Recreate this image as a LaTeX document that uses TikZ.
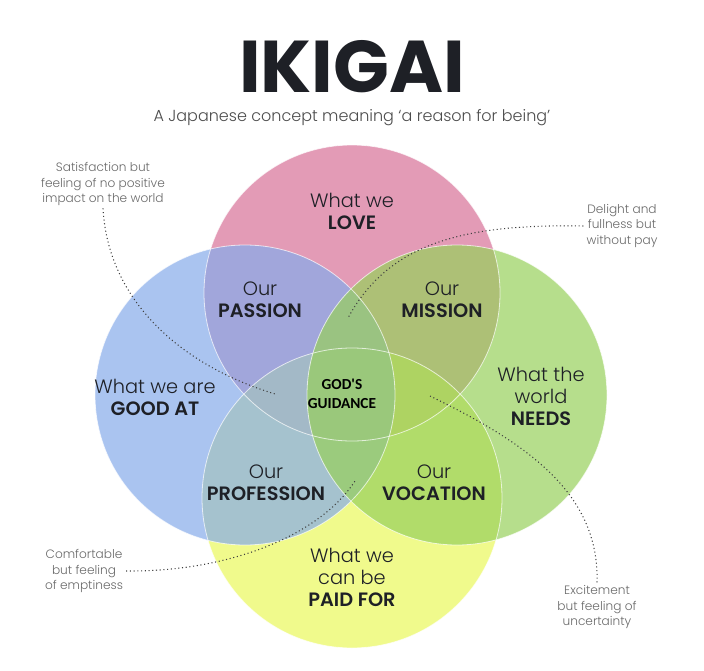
\documentclass[tikz,border=0pt]{standalone}
\usepackage{fontspec}
\setmainfont{Poppins}
\IfFontExistsTF{Poppins Light}{\newfontfamily\thinfont{Poppins Light}}{\newfontfamily\thinfont{Poppins}}
\newfontfamily\calfont{Carlito}

\definecolor{lovepink}{RGB}{215,112,151}
\definecolor{goodblue}{RGB}{134,171,234}
\definecolor{needgreen}{RGB}{151,208,91}
\definecolor{paidyellow}{RGB}{234,248,91}
\definecolor{notegray}{RGB}{105,105,105}
\definecolor{inkdark}{RGB}{30,32,38}

\tikzset{every picture/.style={line width=0.75pt}}
\tikzset{
  ringfill/.style={draw=none, fill opacity=0.7},
  ringline/.style={draw=white, draw opacity=0.7, line width=0.6},
  arealbl/.style={align=center, inner sep=0, text=inkdark, font=\thinfont\fontsize{14.5}{16.5}\selectfont},
  notelbl/.style={align=center, inner sep=2, text=notegray, font=\thinfont\fontsize{9.1}{11.3}\selectfont},
  dotlink/.style={dotted, line width=0.8, draw=black!75},
}

\begin{document}
\begin{tikzpicture}[x=0.75pt,y=0.75pt,yscale=-1,xscale=1]
    \useasboundingbox (0,0) rectangle (704,671);

    %Shape: Circle [love]
    \fill [ringfill, lovepink] (352,293) circle (148);
    %Shape: Circle [paid for]
    \fill [ringfill, paidyellow] (352,498) circle (150);
    %Shape: Circle [good at]
    \fill [ringfill, goodblue] (245,395) circle (150);
    %Shape: Circle [needs]
    \fill [ringfill, needgreen] (457,395) circle (150);
    %Shape: Circle outlines
    \draw [ringline] (352,293) circle (148);
    \draw [ringline] (352,498) circle (150);
    \draw [ringline] (245,395) circle (150);
    \draw [ringline] (457,395) circle (150);

    % Text Node
    \node (title) at (352,92) [anchor=base, inner sep=0, text depth=0pt, text=inkdark, font=\bfseries\fontsize{55}{60}\selectfont] {IKIGAI};
    % Text Node
    \node (subtitle) at (352,118) [inner sep=0, text=black!70, font=\thinfont\fontsize{12}{14}\selectfont] {A Japanese concept meaning ‘a reason for being’};

    % Text Node
    \node (love) at (352,211) [arealbl] {What we\\\textbf{LOVE}};
    % Text Node
    \node (passion) at (260,300) [arealbl] {Our\\\textbf{PASSION}};
    % Text Node
    \node (mission) at (442,300) [arealbl] {Our\\\textbf{MISSION}};
    % Text Node
    \node (goodat) at (155,397) [arealbl] {What we are\\\textbf{GOOD AT}};
    % Text Node
    \node (needs) at (541,396) [arealbl] {What the\\world\\\textbf{NEEDS}};
    % Text Node
    \node (guidance) at (342,394) [align=center, inner sep=0, text=black, font=\calfont\bfseries\fontsize{11.5}{14}\selectfont] {GOD'S\\GUIDANCE};
    % Text Node
    \node (profession) at (266,483) [arealbl] {Our\\\textbf{PROFESSION}};
    % Text Node
    \node (vocation) at (434,483) [arealbl] {Our\\\textbf{VOCATION}};
    % Text Node
    \node (paidfor) at (352,577) [arealbl] {What we\\can be\\\textbf{PAID FOR}};

    % Text Node
    \node (satisfy) at (103,184) [notelbl] {Satisfaction but\\feeling of no positive\\impact on the world};
    % Text Node
    \node (delight) at (622,226) [notelbl] {Delight and\\fullness but\\without pay};
    % Text Node
    \node (comfort) at (84,571) [notelbl] {Comfortable\\but feeling\\of emptiness};
    % Text Node
    \node (excite) at (597,607) [notelbl] {Excitement\\but feeling of\\uncertainty};

    \coordinate (satisfyend) at (275,394);
    \coordinate (delightend) at (348,318);
    \coordinate (comfortend) at (355,481);
    \coordinate (excitestart) at (430,396);

    %Curve Lines
    \draw [dotlink] (satisfy.south) .. controls (108,300) and (180,365) .. (satisfyend);
    %Curve Lines
    \draw [dotlink] (delight.west) .. controls (470,224) and (390,240) .. (delightend);
    %Curve Lines
    \draw [dotlink] (comfort.east) .. controls (230,572) and (320,535) .. (comfortend);
    %Curve Lines
    \draw [dotlink] (excitestart) .. controls (520,440) and (600,490) .. (excite.north);

\end{tikzpicture}
\end{document}
